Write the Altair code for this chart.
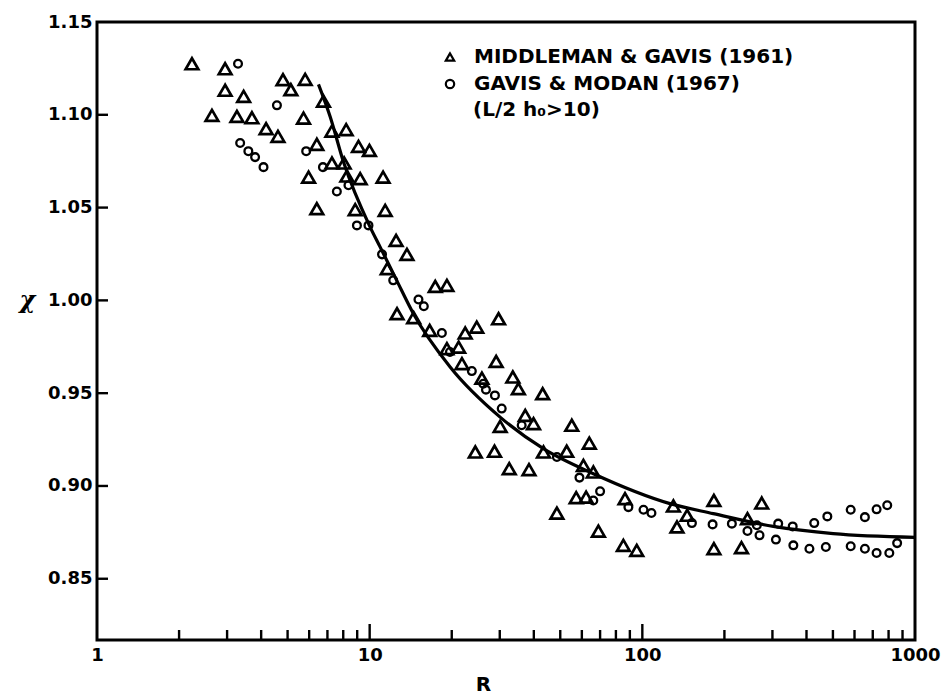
import altair as alt
import pandas as pd

S1 = "MIDDLEMAN & GAVIS (1961)"
S2 = "GAVIS & MODAN (1967)"
NOTE = "(L/2 h\u2080>10)"

tri_R = [2.23, 2.95, 2.95, 3.45, 2.64, 3.26, 3.70, 4.17, 4.61, 4.81, 5.14, 5.80, 5.72, 6.77, 6.40,
         7.27, 8.20, 9.10, 9.98, 7.27, 8.06, 5.97, 8.25, 9.23, 11.2, 6.40, 8.85, 11.4, 12.5, 13.7,
         11.6, 17.4, 19.2, 12.6, 14.5, 16.6, 22.4, 24.7, 29.7, 19.2, 21.2, 21.8, 29.1, 25.8, 33.5,
         35.1, 43.1, 30.1, 37.2, 39.9, 55.1, 63.9, 24.4, 28.7, 32.5, 38.4, 43.4, 52.8, 60.8, 66.1,
         57.2, 62.2, 48.6, 69.0, 86.4, 85.2, 95.4, 130, 134, 146, 183, 183, 231, 274, 243]
tri_chi = [1.1275, 1.1248, 1.1132, 1.1099, 1.0997, 1.0991, 1.0984, 1.0925, 1.0884, 1.1189, 1.1135,
           1.1191, 1.0982, 1.1074, 1.0841, 1.0912, 1.0920, 1.0830, 1.0808, 1.0740, 1.0740, 1.0664,
           1.0670, 1.0656, 1.0664, 1.0494, 1.0489, 1.0485, 1.0323, 1.0248, 1.0171, 1.0075, 1.0081,
           0.9928, 0.9907, 0.9838, 0.9824, 0.9856, 0.9901, 0.9740, 0.9748, 0.9659, 0.9671, 0.9581,
           0.9587, 0.9524, 0.9497, 0.9321, 0.9380, 0.9336, 0.9327, 0.9231, 0.9183, 0.9187, 0.9093,
           0.9088, 0.9183, 0.9187, 0.9111, 0.9075, 0.8937, 0.8940, 0.8854, 0.8757, 0.8932, 0.8680,
           0.8653, 0.8892, 0.8779, 0.8842, 0.8922, 0.8662, 0.8668, 0.8908, 0.8824]

circ_R = [3.29, 4.57, 3.35, 3.59, 3.80, 4.08, 5.85, 6.74, 7.58, 8.36, 8.98, 9.90, 11.1, 12.2, 15.1,
          15.8, 18.4, 19.7, 23.7, 26.1, 26.7, 28.8, 30.5, 36.1, 48.6, 58.8, 66.1, 70.0, 88.9, 101,
          108, 152, 181, 213, 243, 263, 269, 309, 315, 356, 358, 410, 427, 471, 477, 581, 581, 655,
          655, 723, 723, 791, 805, 860]
circ_chi = [1.1275, 1.1051, 1.0848, 1.0804, 1.0772, 1.0718, 1.0804, 1.0718, 1.0587, 1.0620, 1.0404,
            1.0404, 1.0248, 1.0108, 1.0005, 0.9968, 0.9824, 0.9722, 0.9619, 0.9551, 0.9519, 0.9488,
            0.9417, 0.9327, 0.9156, 0.9045, 0.8922, 0.8971, 0.8886, 0.8872, 0.8854, 0.8800, 0.8793,
            0.8797, 0.8757, 0.8788, 0.8734, 0.8711, 0.8797, 0.8782, 0.8680, 0.8662, 0.8800, 0.8671,
            0.8836, 0.8872, 0.8675, 0.8832, 0.8662, 0.8874, 0.8639, 0.8896, 0.8639, 0.8692]

curve_R = [6.49, 7.16, 8.02, 10.04, 10.93, 12.51, 14.47, 19.73, 30.09, 43.36, 66.13, 126.3, 182.1,
           302.2, 501.2, 1000]
curve_chi = [1.1164, 1.0991, 1.0745, 1.0395, 1.0287, 1.0113, 0.9928, 0.9641, 0.9371, 0.9201, 0.9066,
             0.8905, 0.8851, 0.8782, 0.8743, 0.8723]

x_labels = [1, 10, 100, 1000]
x_major_ticks = [10, 100]
x_minor_ticks = [2, 3, 4, 5, 6, 7, 8, 9, 20, 30, 40, 50, 60, 70, 80, 90,
                 200, 300, 400, 500, 600, 700, 800, 900]
y_labels = [0.85, 0.90, 0.95, 1.00, 1.05, 1.10, 1.15]
y_ticks = [0.85, 0.90, 0.95, 1.00, 1.05, 1.10]

FONT = "DejaVu Sans"
W, H = 818, 618

tri_df = pd.DataFrame({"R": tri_R, "chi": tri_chi, "series": S1})
circ_df = pd.DataFrame({"R": circ_R, "chi": circ_chi, "series": S2})
curve_df = pd.DataFrame({"R": curve_R, "chi": curve_chi})
xmaj_df = pd.DataFrame({"R": [float(v) for v in x_major_ticks], "kind": "major"})
xmin_df = pd.DataFrame({"R": [float(v) for v in x_minor_ticks], "kind": "minor"})
yt_df = pd.DataFrame({"chi": [float(v) for v in y_ticks], "kind": "ytick"})

xscale = alt.Scale(type="log", domain=[1, 1000], nice=False)
yscale = alt.Scale(domain=[0.817, 1.15], nice=False, zero=False)

xaxis = alt.Axis(values=x_labels, format="d", labelFlush=False, labelPadding=6,
                 title="R", titleX=386, titleY=44, titleBaseline="middle",
                 titleAlign="center", titleFontSize=20)
yaxis = alt.Axis(values=y_labels, format=".2f", labelFlush=False, labelPadding=5,
                 title="\u03c7", titleAngle=0, titleX=-70, titleY=278,
                 titleBaseline="middle", titleAlign="center", titleFontSize=24,
                 titleFontStyle="italic", titleFont="DejaVu Serif")

X = alt.X("R:Q", scale=xscale, axis=xaxis)
Y = alt.Y("chi:Q", scale=yscale, axis=yaxis)

legend = alt.Legend(title=None, orient="none", legendX=343, legendY=25, padding=0,
                    labelFont=FONT, labelFontWeight="bold", labelFontSize=20,
                    labelColor="black", labelLimit=500, labelOffset=14, rowPadding=7,
                    symbolSize=70, symbolStrokeWidth=2.2, symbolStrokeColor="black",
                    symbolFillColor="white")
shape_scale = alt.Scale(domain=[S1, S2], range=["triangle-up", "circle"])

curve = alt.Chart(curve_df).mark_line(color="black", strokeWidth=3.2,
                                      interpolate="monotone").encode(x=X, y=Y)

tri = alt.Chart(tri_df).mark_point(filled=False, color="black", size=160, strokeWidth=2.7,
                                   opacity=1).encode(
    x=X, y=Y, shape=alt.Shape("series:N", scale=shape_scale, legend=legend))
circ = alt.Chart(circ_df).mark_point(filled=False, color="black", size=60, strokeWidth=2.3,
                                     opacity=1).encode(
    x=X, y=Y, shape=alt.Shape("series:N", scale=shape_scale, legend=legend))

note = alt.Chart(pd.DataFrame({"t": [NOTE]})).mark_text(
    align="left", baseline="middle", font=FONT, fontWeight="bold", fontSize=20,
    color="black").encode(text="t:N", x=alt.value(376), y=alt.value(88))

# inward tick marks along the bottom and left edges
xmaj = alt.Chart(xmaj_df).mark_rule(color="black", strokeWidth=2.4).encode(
    x=X, y=alt.value(H - 16), y2=alt.value(H))
xmin = alt.Chart(xmin_df).mark_rule(color="black", strokeWidth=2.4).encode(
    x=X, y=alt.value(H - 10), y2=alt.value(H))
yt = alt.Chart(yt_df).mark_rule(color="black", strokeWidth=2.4).encode(
    y=Y, x=alt.value(0), x2=alt.value(11))

chart = alt.layer(curve, tri, circ, note, xmaj, xmin, yt).properties(
    width=W, height=H, background="white",
    padding={"left": 97, "top": 22, "right": 32, "bottom": 56},
    autosize=alt.AutoSizeParams(type="none"),
).configure_view(stroke="black", strokeWidth=3).configure_axis(
    domain=False, ticks=False, grid=False, labelFont=FONT, labelFontWeight="bold",
    labelFontSize=18, labelColor="black", titleFont=FONT, titleFontWeight="bold",
    titleColor="black")

chart.save("out.html", embed_options={"renderer": "svg", "actions": False})
